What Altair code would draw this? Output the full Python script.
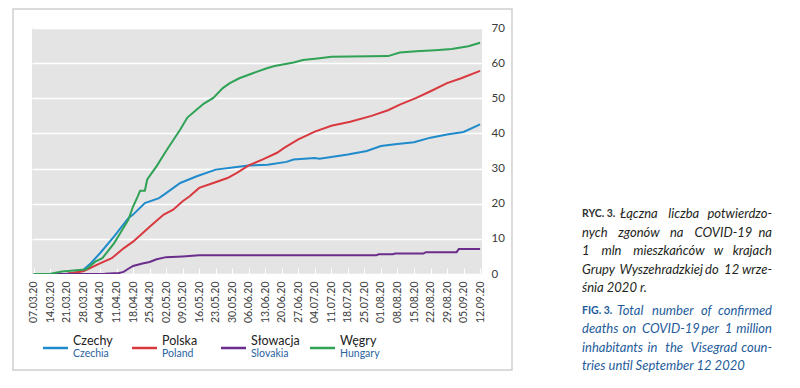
import altair as alt
import pandas as pd

# ---------------- data ----------------
countries = ["Czechy", "Polska", "Słowacja", "Węgry"]
countries_en = ["Czechia", "Poland", "Slovakia", "Hungary"]
colors = ["#1f8bcb", "#d8393f", "#6a2d8b", "#2fa256"]

tick_labels = ["07.03.20", "14.03.20", "21.03.20", "28.03.20", "04.04.20", "11.04.20",
               "18.04.20", "25.04.20", "02.05.20", "09.05.20", "16.05.20", "23.05.20",
               "30.05.20", "06.06.20", "13.06.20", "20.06.20", "27.06.20", "04.07.20",
               "11.07.20", "18.07.20", "25.07.20", "01.08.20", "08.08.20", "15.08.20",
               "22.08.20", "29.08.20", "05.09.20", "12.09.20"]

# day offsets counted from 07.03.2020
cz_days = [0, 7, 14, 18, 21, 24, 28, 34, 40, 42, 47, 53, 56, 62, 69, 77, 85, 91, 99,
           107, 110, 119, 121, 133, 141, 147, 153, 161, 168, 175, 182, 189]
cz_vals = [0, 0, 0.1, 0.4, 1.2, 3.0, 5.9, 10.7, 15.9, 16.9, 20.2, 21.6, 23.0, 25.9,
           27.8, 29.7, 30.4, 30.9, 31.1, 31.9, 32.6, 33.0, 32.8, 34.0, 35.0, 36.4,
           36.9, 37.5, 38.8, 39.7, 40.4, 42.6]

pl_days = [0, 7, 14, 21, 28, 33, 38, 42, 46, 50, 55, 59, 63, 66, 70, 76, 82, 86, 91,
           97, 103, 106, 112, 119, 126, 134, 143, 150, 155, 162, 168, 175, 181, 189]
pl_vals = [0, 0, 0.1, 0.8, 3.0, 4.5, 7.3, 9.2, 11.6, 14.0, 16.9, 18.3, 20.7, 22.1,
           24.5, 25.9, 27.3, 28.8, 30.9, 32.6, 34.5, 35.9, 38.3, 40.5, 42.2, 43.3,
           45.0, 46.6, 48.2, 50.1, 52.0, 54.3, 55.7, 57.8]

sk_days = [0, 30, 36, 38, 40, 42, 46, 49, 52, 56, 63, 70, 145, 146, 152, 153, 165,
           166, 179, 180, 189]
sk_vals = [0, 0.1, 0.3, 0.6, 1.5, 2.3, 3.0, 3.4, 4.2, 4.8, 5.0, 5.3, 5.3, 5.6, 5.6,
           5.8, 5.8, 6.2, 6.2, 7.1, 7.1]

hu_days = [0, 7, 12, 18, 22, 26, 29, 34, 37, 40, 42, 44, 45, 47, 48, 52, 56, 62, 65,
           69, 72, 76, 80, 83, 87, 93, 99, 102, 110, 114, 121, 126, 150, 155, 162,
           170, 177, 184, 189]
hu_vals = [0, 0.1, 0.7, 1.1, 1.3, 3.5, 4.5, 8.8, 12.1, 15.4, 19.2, 22.1, 23.7, 23.7,
           26.9, 30.7, 35.0, 41.1, 44.5, 46.8, 48.5, 50.1, 52.9, 54.3, 55.7, 57.2,
           58.6, 59.2, 60.2, 60.9, 61.4, 61.8, 62.0, 63.0, 63.4, 63.7, 64.0, 64.8,
           65.8]

caption_pl = ["Łączna liczba potwierdzo-", "nych zgonów na COVID-19 na",
              "1 mln mieszkańców w krajach", "Grupy Wyszehradzkiej do 12 wrze-",
              "śnia 2020 r."]
caption_en = ["Total number of confirmed", "deaths on COVID-19 per 1 million",
              "inhabitants in the Visegrad coun-", "tries until September 12 2020"]

# ---------------- build table ----------------
series = [(cz_days, cz_vals), (pl_days, pl_vals), (sk_days, sk_vals), (hu_days, hu_vals)]
rows = []
for name, (ds, vs) in zip(countries, series):
    for d, v in zip(ds, vs):
        rows.append({"country": name, "day": d, "value": v})
df = pd.DataFrame(rows)

FONT = "Lato"
CAP_FONT = "Lato"
CAP_FS = 13
W, H = 450, 246
OX, OY = 32, 28  # plot origin on the page

label_expr = "[" + ",".join(f"'{t}'" for t in tick_labels) + "][round(datum.value/7)]"

dummy = pd.DataFrame({"a": [0]})

frame = alt.Chart(dummy).mark_rect(fill=None, stroke="#cfcfcf", strokeWidth=1.5).encode(
    x=alt.value(13 - OX), x2=alt.value(512 - OX),
    y=alt.value(9 - OY), y2=alt.value(370 - OY))

lines = alt.Chart(df).mark_line(strokeWidth=2, clip=True).encode(
    x=alt.X("day:Q",
            scale=alt.Scale(domain=[-0.8, 189.8], nice=False, zero=False),
            axis=alt.Axis(values=list(range(0, 190, 7)), labelExpr=label_expr,
                          labelAngle=270, domain=False, ticks=True, tickColor="white",
                          tickSize=6, tickWidth=1, offset=-6, labelPadding=7,
                          grid=False, title=None, labelFontSize=10.5, labelFont=FONT,
                          labelColor="#3a3a3a", labelOverlap=False, labelFlush=False,
                          labelBound=False)),
    y=alt.Y("value:Q",
            scale=alt.Scale(domain=[0, 70], nice=False),
            axis=alt.Axis(orient="right", values=list(range(0, 71, 10)), grid=True,
                          gridColor="white", gridWidth=1.5, domain=False, ticks=False,
                          labelPadding=9, title=None, labelFontSize=11.5,
                          labelFont=FONT, labelColor="#3a3a3a")),
    color=alt.Color("country:N", scale=alt.Scale(domain=countries, range=colors),
                    legend=None),
    order=alt.Order("day:Q"),
)

layers = [frame, lines]

# custom legend
for i, (pl, en, col) in enumerate(zip(countries, countries_en, colors)):
    x0 = 43 + 89 * i - OX
    layers.append(alt.Chart(dummy).mark_rule(color=col, strokeWidth=2.5).encode(
        x=alt.value(x0), x2=alt.value(x0 + 25), y=alt.value(348 - OY)))
    layers.append(alt.Chart(dummy).mark_text(
        text=pl, align="left", baseline="middle", font=FONT, fontSize=12.5,
        color="#222222").encode(x=alt.value(x0 + 30), y=alt.value(341 - OY)))
    layers.append(alt.Chart(dummy).mark_text(
        text=en, align="left", baseline="middle", font=FONT, fontSize=10.5,
        color="#2a64a0").encode(x=alt.value(x0 + 30), y=alt.value(354 - OY)))

# ---- caption (approximate justification) ----
CW = {" ": .19, ".": .23, ",": .23, "-": .33, "i": .24, "j": .24, "l": .24, "ł": .26,
      "f": .32, "t": .35, "r": .37, "s": .42, "ś": .42, "c": .45, "z": .45, "x": .48,
      "k": .5, "v": .5, "y": .5, "g": .5, "a": .51, "ą": .51, "e": .52, "ę": .52,
      "m": .83, "w": .76, "I": .27, "W": .98, "O": .76, "D": .72, "V": .65, "G": .7,
      "T": .56, "S": .49, "C": .64, "Ł": .5}
for ch in "0123456789":
    CW[ch] = .58
K = 0.9


def est_w(s):
    return sum(CW.get(ch, .56) for ch in s) * CAP_FS * K


def place(line, x0, x1, mode):
    words = line.split(" ")
    if mode == "left":
        return [(line, x0, "left")]
    if mode == "two":
        return [(" ".join(words[:-1]), x0, "left"), (words[-1], x1, "right")]
    nat = [est_w(w) for w in words]
    gap = (x1 - x0 - sum(nat)) / (len(words) - 1)
    out, x = [], x0
    for k, (w, n) in enumerate(zip(words, nat)):
        out.append((w, x1, "right") if k == len(words) - 1 else (w, x, "left"))
        x += n + gap
    return out


def cap_text(t, x, y, align, color):
    return alt.Chart(dummy).mark_text(
        text=t, align=align, baseline="middle", font=CAP_FONT, fontSize=CAP_FS,
        fontStyle="italic", color=color).encode(
        x=alt.value(x - OX), y=alt.value(y - OY))


CAP_L, CAP_R = 582, 772
pl_y = [214, 232.5, 251, 269.5, 288]
en_y = [310.5, 329, 347.5, 366]
pl_modes = ["words", "words", "words", "words", "left"]
en_modes = ["words", "words", "words", "left"]
PL_COL, EN_COL = "#231f20", "#245c9a"

layers.append(alt.Chart(dummy).mark_text(
    text="RYC. 3.", align="left", baseline="middle", font=CAP_FONT, fontSize=10.5,
    fontWeight="bold", color="#333333").encode(x=alt.value(CAP_L - OX), y=alt.value(pl_y[0] - OY)))
layers.append(alt.Chart(dummy).mark_text(
    text="FIG. 3.", align="left", baseline="middle", font=CAP_FONT, fontSize=10.5,
    fontWeight="bold", color=EN_COL).encode(x=alt.value(CAP_L - OX), y=alt.value(en_y[0] - OY)))

for lines_, ys, modes, col, first_x in ((caption_pl, pl_y, pl_modes, PL_COL, 620),
                                         (caption_en, en_y, en_modes, EN_COL, 617)):
    for j, (t, yy, md) in enumerate(zip(lines_, ys, modes)):
        start = first_x if j == 0 else CAP_L
        for w, xw, al in place(t, start, CAP_R, md):
            layers.append(cap_text(w, xw, yy, al, col))

chart = alt.layer(*layers).properties(
    width=W, height=H,
    autosize=alt.AutoSizeParams(type="none"),
    padding={"left": OX - 8, "top": OY - 8, "right": 784 - (OX - 8) - W, "bottom": 368 - (OY - 8) - H},
).configure_view(fill="#e4e4e4", stroke=None)

chart.save("out.html", embed_options={"renderer": "svg", "actions": False})
